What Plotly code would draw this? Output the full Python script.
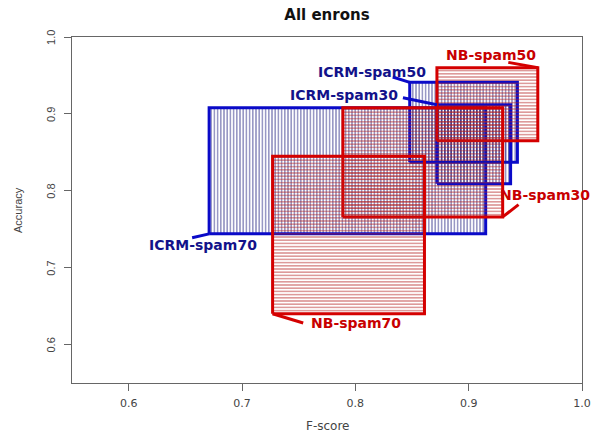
import plotly.graph_objects as go

# ---- data ----
names = ["ICRM-spam70", "ICRM-spam50", "ICRM-spam30", "NB-spam50", "NB-spam30", "NB-spam70"]
family = ["ICRM", "ICRM", "ICRM", "NB", "NB", "NB"]
fscore_min = [0.671, 0.848, 0.872, 0.872, 0.789, 0.727]
fscore_max = [0.915, 0.943, 0.937, 0.961, 0.930, 0.861]
acc_min = [0.744, 0.837, 0.809, 0.865, 0.766, 0.640]
acc_max = [0.908, 0.941, 0.912, 0.960, 0.908, 0.845]

# label centre positions and pointer start points (data units)
label_x = [0.666, 0.815, 0.790, 0.920, 0.967, 0.801]
label_y = [0.730, 0.954, 0.925, 0.977, 0.795, 0.628]
ptr_x = [0.656, 0.833, 0.842, 0.935, 0.944, 0.754]
ptr_y = [0.739, 0.948, 0.921, 0.967, 0.782, 0.628]
# which corner the pointer touches
corner_right = [False, False, False, True, True, False]
corner_top = [False, True, True, True, False, False]

x_ticks = [0.6, 0.7, 0.8, 0.9, 1.0]
y_ticks = [0.6, 0.7, 0.8, 0.9, 1.0]
y_ticktext = ["0.6", "0.7", "0.8", "0.9", "1.0"]

style = {
    "ICRM": dict(line="#0a0ac8", hatch="rgba(25,25,125,1)", shape="|", text="#12128a"),
    "NB": dict(line="#d40000", hatch="rgba(180,30,30,1)", shape="-", text="#c80000"),
}

fig = go.Figure()

for i, n in enumerate(names):
    s = style[family[i]]
    l, r, b, t = fscore_min[i], fscore_max[i], acc_min[i], acc_max[i]
    fig.add_trace(go.Scatter(
        x=[l, r, r, l, l], y=[b, b, t, t, b],
        mode="lines", fill="toself",
        fillcolor="rgba(0,0,0,0)",
        fillpattern=dict(shape=s["shape"], fgcolor=s["hatch"], bgcolor="rgba(0,0,0,0)",
                         size=3.2, solidity=0.45, fillmode="overlay"),
        line=dict(color=s["line"], width=3),
        name=n, showlegend=False, hoverinfo="skip",
    ))

shapes = []
annotations = []
for i, n in enumerate(names):
    s = style[family[i]]
    cx = fscore_max[i] if corner_right[i] else fscore_min[i]
    cy = acc_max[i] if corner_top[i] else acc_min[i]
    shapes.append(dict(type="line", xref="x", yref="y", x0=ptr_x[i], y0=ptr_y[i],
                       x1=cx, y1=cy, line=dict(color=s["line"], width=3)))
    annotations.append(dict(x=label_x[i], y=label_y[i], xref="x", yref="y", text="<b>%s</b>" % n,
                            showarrow=False, font=dict(family="DejaVu Sans", size=14, color=s["text"]),
                            xanchor="center", yanchor="middle"))

# rotated y tick labels (R style, parallel to the axis)
for v, txt in zip(y_ticks, y_ticktext):
    annotations.append(dict(x=-0.0412, y=v, xref="paper", yref="y", text=txt, showarrow=False,
                            textangle=-90, font=dict(family="Liberation Sans", size=11, color="#444"),
                            xanchor="center", yanchor="middle"))

annotations.append(dict(x=0.5, y=-0.1243, xref="paper", yref="paper", text="F-score", showarrow=False,
                        font=dict(family="DejaVu Sans", size=12, color="#444"), xanchor="center", yanchor="middle"))
annotations.append(dict(x=-0.1059, y=0.5, xref="paper", yref="paper", text="Accuracy", showarrow=False,
                        textangle=-90,
                        font=dict(family="Liberation Sans", size=11, color="#444"), xanchor="center", yanchor="middle"))

axis_common = dict(showgrid=False, zeroline=False, showline=True, linecolor="#666", linewidth=1,
                   mirror=True, ticks="outside", ticklen=7, tickcolor="#666", tickwidth=1)

fig.update_layout(
    width=608, height=435,
    margin=dict(l=72, r=26, t=37, b=52),
    paper_bgcolor="white", plot_bgcolor="white",
    title=dict(text="<b>All enrons</b>", x=0.5378, xanchor="center", y=1 - 15 / 435, yref="container",
               yanchor="middle", font=dict(family="DejaVu Sans", size=15, color="#111")),
    xaxis=dict(range=[0.55, 1.0], tickvals=x_ticks, ticktext=["%.1f" % v for v in x_ticks],
               ticklabelstandoff=3,
               tickfont=dict(family="DejaVu Sans", size=11, color="#444"), **axis_common),
    yaxis=dict(range=[0.55, 1.0], tickvals=y_ticks, showticklabels=False, **axis_common),
    shapes=shapes, annotations=annotations,
)

fig.write_html("out.html", config={"displayModeBar": False},
               post_script="document.body.style.margin='0';document.body.style.padding='0';")
